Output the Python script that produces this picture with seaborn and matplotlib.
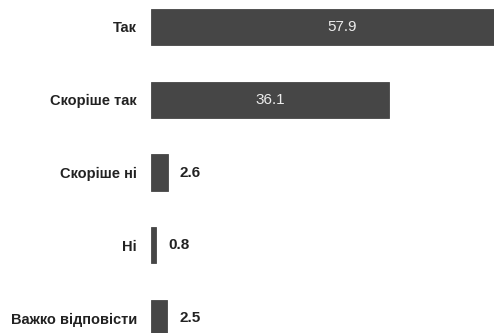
import matplotlib
matplotlib.use("Agg")
import matplotlib.pyplot as plt
import seaborn as sns
import pandas as pd

categories = ["Так", "Скоріше так", "Скоріше ні", "Ні", "Важко відповісти"]
values = [57.9, 36.1, 2.6, 0.8, 2.5]

bar_color = "#464646"

sns.set_style("white")
plt.rcParams['font.family'] = ['Liberation Sans', 'DejaVu Sans']

df = pd.DataFrame({"answer": categories, "share": values})

fig = plt.figure(figsize=(4.94, 3.33), dpi=100)
ax = fig.add_axes([151 / 494, 0, 1 - 151 / 494, 1])

sns.barplot(data=df, x="share", y="answer", orient="h", color=bar_color,
            width=0.5, saturation=1, ax=ax, edgecolor=bar_color, linewidth=0.6)

ax.set_xlim(0, 52)
ax.set_ylim(4.206, -0.371)
ax.set_xlabel("")
ax.set_ylabel("")
ax.set_xticks([])
ax.tick_params(axis="y", length=0, pad=10)
for lab in ax.get_yticklabels():
    lab.set_fontsize(10.5)
    lab.set_fontweight("bold")
    lab.set_color("#222222")
sns.despine(ax=ax, left=True, bottom=True)

# value labels: inside for long bars, outside for short ones
for i, v in enumerate(values):
    if v > 10:
        ax.text(v / 2, i, f"{v:.1f}", ha="center", va="center",
                color="#ececec", fontsize=11)
    else:
        ax.annotate(f"{v:.1f}", xy=(v, i), xytext=(8.5, 0), textcoords="offset points",
                    ha="left", va="center", color="#222222", fontsize=11,
                    fontweight="bold")

fig.savefig("out.png", dpi=100)
